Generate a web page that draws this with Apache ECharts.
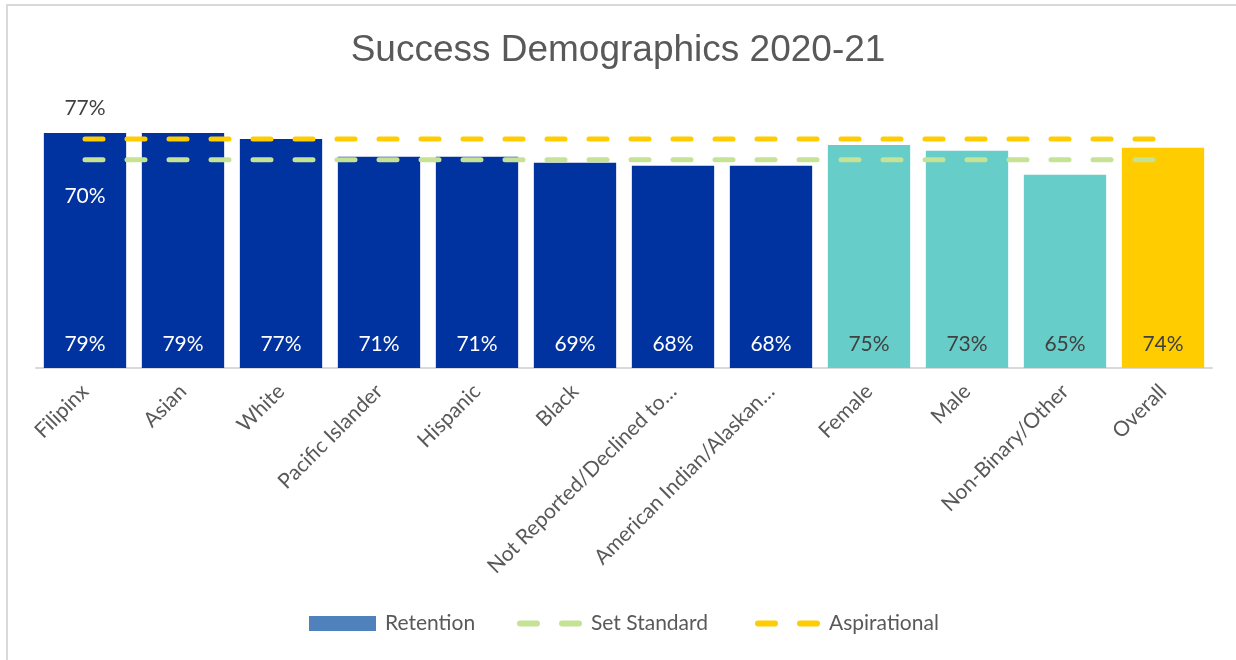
<!DOCTYPE html>
<html>
<head>
<meta charset="utf-8">
<script src="https://cdn.jsdelivr.net/npm/echarts@6/dist/echarts.min.js"></script>
<style>
  html, body { margin: 0; padding: 0; background: #ffffff; }
  #frame { position: absolute; left: 6px; top: 4px; width: 1240px; height: 670px;
           border-left: 2px solid #d9d9d9; border-top: 2px solid #d9d9d9; box-sizing: border-box; }
  #chart { position: absolute; left: 0; top: 0; width: 1236px; height: 660px; }
</style>
</head>
<body>
<div id="frame"></div>
<div id="chart"></div>
<script>
// Retention rates by student group, 2020-21
const categories = ['Filipinx', 'Asian', 'White', 'Pacific Islander', 'Hispanic', 'Black',
  'Not Reported/Declined to…', 'American Indian/Alaskan…', 'Female', 'Male', 'Non-Binary/Other', 'Overall'];
const retention = [79, 79, 77, 71, 71, 69, 68, 68, 75, 73, 65, 74];
const groupType = ['eth', 'eth', 'eth', 'eth', 'eth', 'eth', 'eth', 'eth', 'gen', 'gen', 'gen', 'all'];
const setStandard = [70, 70, 70, 70, 70, 70, 70, 70, 70, 70, 70, 70];
const aspirational = [77, 77, 77, 77, 77, 77, 77, 77, 77, 77, 77, 77];

const barColors = { eth: '#0033a0', gen: '#66cdc8', all: '#ffcc00' };
const labelColors = { eth: '#ffffff', gen: '#404040', all: '#404040' };
const txtFont = 'Lato, "Open Sans", sans-serif';

const barData = retention.map((v, i) => ({
  value: v,
  itemStyle: { color: barColors[groupType[i]] },
  label: { color: labelColors[groupType[i]] }
}));

// Only the first point of each target line carries a value label
function lineData(arr, pos, off, color) {
  return arr.map((v, i) => i === 0
    ? { value: v, label: { show: true, position: pos, offset: [0, off], formatter: '{c}%',
        color: color, fontSize: 21, fontFamily: txtFont } }
    : v);
}

const dashIcon = 'path://M3,0H20A3,3,0,0,1,20,6H3A3,3,0,0,1,3,0ZM45,0H62A3,3,0,0,1,62,6H45A3,3,0,0,1,45,0Z';

const legendText = { fontFamily: txtFont, fontSize: 21, color: '#595959', padding: [0, 0, 0, 4] };

const chart = echarts.init(document.getElementById('chart'));
chart.setOption({
  animation: false,
  title: {
    text: 'Success Demographics 2020-21',
    left: 'center', top: 27,
    textStyle: { fontFamily: '"Liberation Sans", Arial, sans-serif', fontSize: 37, fontWeight: 'normal', color: '#595959' }
  },
  legend: [
    { left: 304, top: 608, itemWidth: 67, itemHeight: 15, textStyle: legendText,
      data: [{ name: 'Retention', icon: 'rect', itemStyle: { color: '#4f81bd' } }] },
    { left: 512, top: 608, itemWidth: 65, itemHeight: 6, textStyle: legendText,
      data: [{ name: 'Set Standard', icon: dashIcon, itemStyle: { color: '#c5e295' } }] },
    { left: 750, top: 608, itemWidth: 65, itemHeight: 6, textStyle: legendText,
      data: [{ name: 'Aspirational', icon: dashIcon, itemStyle: { color: '#ffcc00' } }] }
  ],
  grid: { left: 36, right: 24, top: 130, bottom: 292, containLabel: false },
  xAxis: {
    type: 'category',
    data: categories,
    axisLine: { lineStyle: { color: '#d9d9d9', width: 2 } },
    axisTick: { show: false },
    axisLabel: { rotate: 45, interval: 0, margin: 20, fontFamily: txtFont, fontSize: 21, color: '#595959' }
  },
  yAxis: {
    type: 'value', min: 0, max: 80, show: false,
    splitLine: { show: false }
  },
  series: [
    {
      name: 'Retention', type: 'bar', data: barData, barCategoryGap: '16%',
      label: { show: true, position: 'insideBottom', distance: 13, formatter: '{c}%', fontSize: 21, fontFamily: txtFont }
    },
    {
      name: 'Set Standard', type: 'line', data: lineData(setStandard, 'bottom', 21, '#ffffff'),
      symbol: 'circle', symbolSize: 0, showSymbol: true, z: 5,
      lineStyle: { color: '#c5e295', width: 5, type: [18, 24], cap: 'round' },
      itemStyle: { color: '#c5e295' }
    },
    {
      name: 'Aspirational', type: 'line', data: lineData(aspirational, 'top', -15, '#404040'),
      symbol: 'circle', symbolSize: 0, showSymbol: true, z: 5,
      lineStyle: { color: '#ffcc00', width: 5, type: [18, 24], cap: 'round' },
      itemStyle: { color: '#ffcc00' }
    }
  ]
});
</script>
</body>
</html>
